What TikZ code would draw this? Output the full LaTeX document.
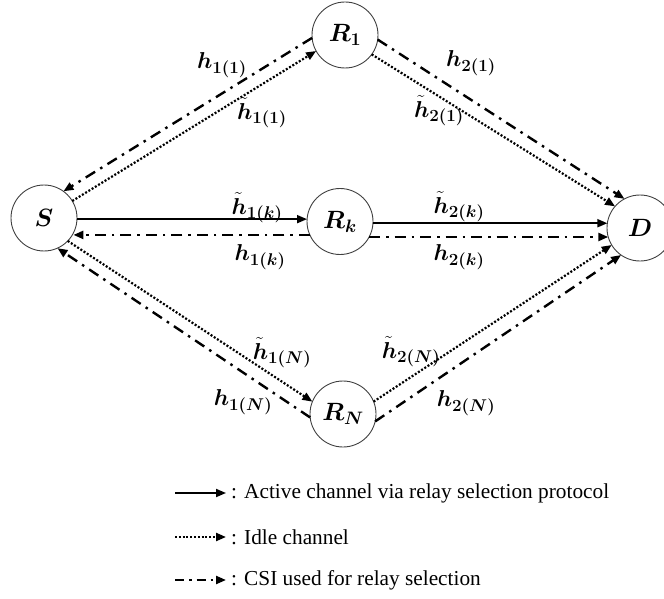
\RequirePackage{fix-cm}
\documentclass[tikz,border=0pt]{standalone}
\usepackage{bm}
\usepackage[no-math]{fontspec}
\setmainfont{Liberation Serif}
\usetikzlibrary{arrows.meta}
\DeclareMathSizes{23}{23}{17}{12}
\DeclareMathSizes{25}{25}{18}{13}
\begin{document}
\begin{tikzpicture}[x=1pt,y=-1pt,
  nd/.style={circle,draw=black!75,line width=0.9pt,minimum size=66pt,inner sep=0pt,outer sep=0pt,font=\fontsize{25}{30}\selectfont},
  lbl/.style={inner sep=0pt,font=\fontsize{23}{27}\selectfont},
  tipend/.style={-{Triangle[length=10pt,width=8pt]}},
  act/.style={tipend,line width=1.8pt},
  idle/.style={tipend,line width=2.2pt,dash pattern=on 2pt off 1.8pt},
  csi/.style={tipend,line width=2.4pt,dash pattern=on 11pt off 6pt on 2.5pt off 6pt},
  legcsi/.style={tipend,line width=2.2pt,dash pattern=on 9pt off 5pt on 2.5pt off 5pt},
  leg/.style={anchor=west,inner sep=0pt,font=\fontsize{21.3}{25}\selectfont}
]
\useasboundingbox (0,0) rectangle (664,599);
\clip (0,0) rectangle (664,599);

\node[nd] (S)  at (44,218)   {$\bm{S}$};
\node[nd] (R1) at (345,35)   {$\bm{R}_{\bm{1}}$};
\node[nd] (Rk) at (340,221.5) {$\bm{R}_{\bm{k}}$};
\node[nd] (RN) at (343,414)  {$\bm{R}_{\bm{N}}$};
\node[nd] (D)  at (640,228)  {$\bm{D}$};

% S -- R1
\draw[csi]  (R1.185) -- (S.54);
\draw[idle] (S.31) -- (R1.209);
% S -- Rk
\draw[act] (S.-2) -- (S.-2 -| Rk.west);
\draw[csi] (Rk.204) -- (Rk.204 -| S.-27);
% S -- RN
\draw[idle] (S.-44) -- (RN.158);
\draw[csi]  (RN.186) -- (S.-66);
% R1 -- D
\draw[csi]  (R1.-8) -- (D.118);
\draw[idle] (R1.-36) -- (D.139);
% Rk -- D
\draw[act] (Rk.-3) -- (Rk.-3 -| D.171);
\draw[csi] (Rk.-28) -- (Rk.-28 -| D.196);
% RN -- D
\draw[idle] (RN.22) -- (D.211);
\draw[csi]  (RN.-13) -- (D.235);

% labels
\node[lbl] (h11)  at (222,65)  {$\bm{h}_{\bm{1(1)}}$};
\node[lbl] (th11) at (262,113) {$\tilde{\bm{h}}_{\bm{1(1)}}$};
\node[lbl] (th1k) at (257,208) {$\tilde{\bm{h}}_{\bm{1(k)}}$};
\node[lbl] (h1k)  at (260,257) {$\bm{h}_{\bm{1(k)}}$};
\node[lbl] (h21)  at (471,63)  {$\bm{h}_{\bm{2(1)}}$};
\node[lbl] (th21) at (439,111) {$\tilde{\bm{h}}_{\bm{2(1)}}$};
\node[lbl] (th2k) at (459,207) {$\tilde{\bm{h}}_{\bm{2(k)}}$};
\node[lbl] (h2k)  at (459,257) {$\bm{h}_{\bm{2(k)}}$};
\node[lbl] (th1N) at (282,353) {$\tilde{\bm{h}}_{\bm{1(N)}}$};
\node[lbl] (h1N)  at (243,402) {$\bm{h}_{\bm{1(N)}}$};
\node[lbl] (th2N) at (411,352) {$\tilde{\bm{h}}_{\bm{2(N)}}$};
\node[lbl] (h2N)  at (466,403) {$\bm{h}_{\bm{2(N)}}$};

% legend
\coordinate (ls1) at (175,493); \coordinate (le1) at (226,493);
\coordinate (ls2) at (175,537); \coordinate (le2) at (226,537);
\coordinate (ls3) at (175,580); \coordinate (le3) at (226,580);
\draw[act] (ls1) -- (le1);
\draw[idle] (ls2) -- (le2);
\draw[legcsi] (ls3) -- (le3);
\node[leg] (lt1) at (231,493) {: Active channel via relay selection protocol};
\node[leg] (lt2) at (231,537) {: Idle channel};
\node[leg] (lt3) at (231,580) {: CSI used for relay selection};
\end{tikzpicture}
\end{document}
